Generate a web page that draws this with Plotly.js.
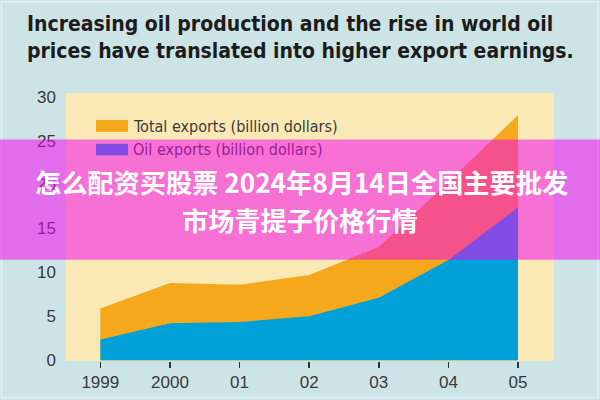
<!DOCTYPE html>
<html>
<head>
<meta charset="utf-8">
<script src="https://cdn.plot.ly/plotly-3.0.1.min.js"></script>
<style>html,body{margin:0;padding:0;background:#cde4e6;}#chart{width:600px;height:400px;}</style>
</head>
<body>
<div id="chart"></div>
<script>
// ---- data ----
const years = [1999, 2000, 2001, 2002, 2003, 2004, 2005];
const yearLabels = ['1999', '2000', '01', '02', '03', '04', '05'];
const totalExports = [5.9, 8.8, 8.6, 9.7, 12.9, 20.3, 27.9];
const oilExports = [2.35, 4.2, 4.35, 5.0, 7.1, 11.4, 17.4];
const seriesNames = ['Total exports (billion dollars)', 'Oil exports (billion dollars)'];
const yTickValues = [0, 5, 10, 15, 20, 25, 30];
const gridValues = [5, 10, 15, 20, 25];
const titleText = 'Increasing oil production and the rise in world oil<br>prices have translated into higher export earnings.';
const bannerLines = ['怎么配资买股票 2024年8月14日全国主要批发', '市场青提子价格行情'];

// ---- style ----
const ORANGE = '#f6a81c';
const BLUE = '#00a0d9';
const YELLOW = '#fae9b4';
const PAPER = '#cde4e6';
const COND = '"Liberation Sans Narrow", "DejaVu Sans Condensed", "Roboto Condensed", sans-serif';
const SANS = '"Liberation Sans", Arial, sans-serif';
const CJK = '"Noto Sans CJK SC", sans-serif';

// plot area in pixels
const L = 66, R = 554, T = 93, B = 361.5;
const px = x => (x - L) / (R - L);
const py = y => (B - y) / (B - T);

const traces = [
  {x: years, y: totalExports, name: seriesNames[0], type: 'scatter', mode: 'none',
   fill: 'tozeroy', fillcolor: ORANGE, yaxis: 'y2', hoverinfo: 'skip'},
  {x: years, y: oilExports, name: seriesNames[1], type: 'scatter', mode: 'none',
   fill: 'tozeroy', fillcolor: BLUE, yaxis: 'y2', hoverinfo: 'skip'}
];

const yRange = [-0.09, 30.42];
const layout = {
  width: 600, height: 400,
  paper_bgcolor: PAPER, plot_bgcolor: YELLOW,
  margin: {l: L, r: 600 - R, t: T, b: 400 - B, pad: 0},
  showlegend: false,
  title: {
    text: titleText, x: 27 / 600, xanchor: 'left', xref: 'container',
    y: 1 - 31 / 400, yanchor: 'top', yref: 'container',
    font: {family: COND, size: 21, color: '#1c1c1c', weight: 'bold'}
  },
  xaxis: {
    range: [1998.507, 2005.517], tickvals: years, ticktext: yearLabels,
    ticks: 'outside', ticklen: 6, tickwidth: 1.5, tickcolor: '#333',
    showgrid: false, zeroline: false, showline: false,
    tickfont: {family: SANS, size: 17, color: '#3a3a3a'}
  },
  yaxis: {
    range: yRange, tickvals: gridValues, showticklabels: false,
    showgrid: true, gridcolor: '#ffffff', gridwidth: 2, zeroline: false, ticks: ''
  },
  yaxis2: {
    range: yRange, overlaying: 'y', side: 'left', tickvals: yTickValues,
    showgrid: false, zeroline: false, ticks: '', showline: false,
    ticklabelstandoff: 9,
    tickfont: {family: SANS, size: 17, color: '#3a3a3a'}
  },
  shapes: [
    {type: 'rect', xref: 'paper', yref: 'paper', x0: px(96), x1: px(128), y0: py(132), y1: py(120),
     fillcolor: ORANGE, line: {width: 0}, layer: 'above'},
    {type: 'rect', xref: 'paper', yref: 'paper', x0: px(96), x1: px(128), y0: py(155.5), y1: py(144),
     fillcolor: BLUE, line: {width: 0}, layer: 'above'},
    {type: 'rect', xref: 'paper', yref: 'paper', x0: px(1.5), x1: px(598), y0: py(398), y1: py(1.5),
     fillcolor: 'rgba(0,0,0,0)', line: {width: 1.5, color: '#e3f0f1'}, layer: 'above'},
    {type: 'rect', xref: 'paper', yref: 'paper', x0: px(-5), x1: px(605), y0: py(260), y1: py(139.5),
     fillcolor: 'rgba(244,4,238,0.53)', line: {width: 0}, layer: 'above'}
  ],
  annotations: [
    {text: seriesNames[0], xref: 'paper', yref: 'paper', x: px(131), y: py(126.5),
     xanchor: 'left', yanchor: 'middle', showarrow: false,
     font: {family: COND, size: 16, color: '#3a3a3a'}},
    {text: seriesNames[1], xref: 'paper', yref: 'paper', x: px(131), y: py(150),
     xanchor: 'left', yanchor: 'middle', showarrow: false,
     font: {family: COND, size: 16, color: '#991e98'}},
    {text: bannerLines[0], xref: 'paper', yref: 'paper', x: px(33), y: py(182),
     xanchor: 'left', yanchor: 'middle', showarrow: false,
     font: {family: CJK, size: 26.2, color: '#ffffff', weight: 'bold'}},
    {text: bannerLines[1], xref: 'paper', yref: 'paper', x: px(300), y: py(220),
     xanchor: 'center', yanchor: 'middle', showarrow: false,
     font: {family: CJK, size: 26.2, color: '#ffffff', weight: 'bold'}}
  ]
};

Plotly.newPlot('chart', traces, layout, {displayModeBar: false, staticPlot: true});
</script>
</body>
</html>
